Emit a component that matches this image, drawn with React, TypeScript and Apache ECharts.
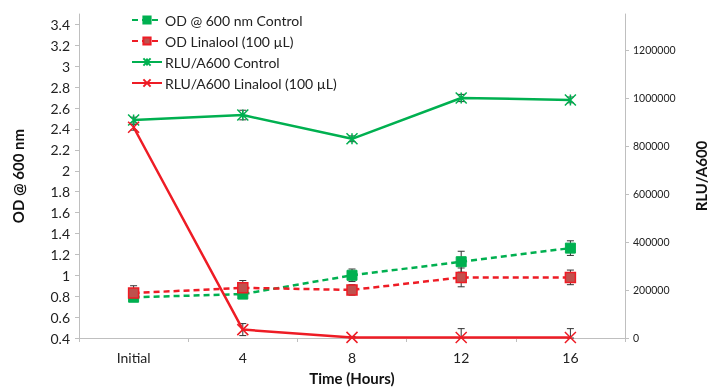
import React, { useEffect, useRef } from "react";
import * as echarts from "echarts";

const categories = ["Initial", "4", "8", "12", "16"];
const odControl = [0.79, 0.82, 1.0, 1.13, 1.26];
const odControlErr = [0.03, 0.03, 0.06, 0.1, 0.07];
const odLinalool = [0.83, 0.88, 0.86, 0.98, 0.98];
const odLinaloolErr = [0.07, 0.07, 0.05, 0.09, 0.07];
const rluControl = [908000, 929000, 830000, 1000000, 992000];
const rluControlErr = [12000, 20000, 12000, 15000, 12000];
const rluLinalool = [878000, 35000, 2500, 2000, 2000];
const rluLinaloolErr = [12000, 25000, 4000, 37000, 37000];

const GREEN = "#00B050";
const RED = "#EE1C25";
const RED_FILL = "#C0504D";
const FONT = "Lato";

const ASTERISK = "path://M0,0L10,10M10,0L0,10M5,0L5,10";
const CROSS = "path://M0,0L10,10M10,0L0,10";

function errData(vals: number[], errs: number[], floor: number) {
  return vals.map((v, i) => [i, Math.max(floor, v - errs[i]), v + errs[i]]);
}

function renderErr(params: any, api: any) {
  const x = api.value(0);
  const lo = api.coord([x, api.value(1)]);
  const hi = api.coord([x, api.value(2)]);
  const w = 3.5;
  const style = { stroke: "#333", lineWidth: 1 };
  return {
    type: "group",
    children: [
      { type: "line", shape: { x1: lo[0], y1: lo[1], x2: hi[0], y2: hi[1] }, style },
      { type: "line", shape: { x1: lo[0] - w, y1: lo[1], x2: lo[0] + w, y2: lo[1] }, style },
      { type: "line", shape: { x1: hi[0] - w, y1: hi[1], x2: hi[0] + w, y2: hi[1] }, style },
    ],
  };
}

export default function App() {
  const ref = useRef<HTMLDivElement>(null);
  useEffect(() => {
    if (!ref.current) return;
    const chart = echarts.init(ref.current, null, { renderer: "svg" });
    chart.setOption({
      animation: false,
      textStyle: { fontFamily: FONT },
      grid: { left: 79, right: 87, top: 14, bottom: 50, containLabel: false },
      legend: {
        orient: "vertical",
        left: 126,
        top: 8,
        itemWidth: 30,
        itemHeight: 9,
        itemGap: 7,
        data: [
          "OD @ 600 nm Control",
          "OD Linalool (100 µL)",
          "RLU/A600 Control",
          "RLU/A600 Linalool (100 µL)",
        ],
        textStyle: { fontFamily: FONT, fontSize: 14, color: "#222", padding: [0, 0, 0, -2] },
      },
      xAxis: {
        type: "category",
        data: categories,
        boundaryGap: true,
        name: "Time (Hours)",
        nameLocation: "middle",
        nameGap: 32,
        nameTextStyle: { fontFamily: FONT, fontSize: 15, fontWeight: "bold", color: "#111" },
        axisLine: { lineStyle: { color: "#BFBFBF", width: 1 } },
        axisTick: { show: true, alignWithLabel: false, length: 4, lineStyle: { color: "#BFBFBF" } },
        axisLabel: { fontFamily: FONT, fontSize: 14, color: "#222", margin: 12 },
      },
      yAxis: [
        {
          type: "value",
          min: 0.4,
          max: 3.5,
          interval: 0.2,
          name: "OD @ 600 nm",
          nameLocation: "middle",
          nameGap: 54,
          nameTextStyle: { fontFamily: FONT, fontSize: 15, fontWeight: "bold", color: "#111" },
          axisLine: { show: true, lineStyle: { color: "#BFBFBF", width: 1 } },
          axisTick: { show: true, length: 4, lineStyle: { color: "#BFBFBF" } },
          splitLine: { show: false },
          axisLabel: {
            fontFamily: FONT,
            fontSize: 14,
            color: "#222",
            margin: 9,
            showMaxLabel: false,
            formatter: (v: number) => String(Math.round(v * 10) / 10),
          },
        },
        {
          type: "value",
          min: 0,
          max: 1350000,
          interval: 200000,
          name: "RLU/A600",
          nameLocation: "middle",
          nameGap: 68,
          nameTextStyle: { fontFamily: FONT, fontSize: 15, fontWeight: "bold", color: "#111" },
          axisLine: { show: true, lineStyle: { color: "#BFBFBF", width: 1 } },
          axisTick: { show: true, length: 4, lineStyle: { color: "#BFBFBF" } },
          splitLine: { show: false },
          axisLabel: {
            fontFamily: FONT,
            fontSize: 10.5,
            color: "#222",
            margin: 8,
            showMaxLabel: false,
            formatter: (v: number) => String(Math.round(v)),
          },
        },
      ],
      series: [
        {
          type: "custom",
          name: "errOdC",
          yAxisIndex: 0,
          data: errData(odControl, odControlErr, 0.4),
          renderItem: renderErr,
          z: 1,
          silent: true,
        },
        {
          type: "custom",
          name: "errOdL",
          yAxisIndex: 0,
          data: errData(odLinalool, odLinaloolErr, 0.4),
          renderItem: renderErr,
          z: 1,
          silent: true,
        },
        {
          type: "custom",
          name: "errRluC",
          yAxisIndex: 1,
          data: errData(rluControl, rluControlErr, 0),
          renderItem: renderErr,
          z: 1,
          silent: true,
        },
        {
          type: "custom",
          name: "errRluL",
          yAxisIndex: 1,
          data: errData(rluLinalool, rluLinaloolErr, 0),
          renderItem: renderErr,
          z: 1,
          silent: true,
        },
        {
          type: "line",
          name: "OD @ 600 nm Control",
          yAxisIndex: 0,
          data: odControl,
          symbol: "rect",
          symbolSize: 10,
          lineStyle: { color: GREEN, width: 2.5, type: [6, 4] },
          itemStyle: { color: GREEN, borderColor: GREEN, borderWidth: 1 },
          z: 3,
        },
        {
          type: "line",
          name: "OD Linalool (100 µL)",
          yAxisIndex: 0,
          data: odLinalool,
          symbol: "rect",
          symbolSize: 10,
          lineStyle: { color: RED, width: 2.5, type: [6, 4] },
          itemStyle: { color: RED_FILL, borderColor: RED, borderWidth: 1.5 },
          z: 3,
        },
        {
          type: "line",
          name: "RLU/A600 Control",
          yAxisIndex: 1,
          data: rluControl,
          symbol: ASTERISK,
          symbolSize: 11,
          lineStyle: { color: GREEN, width: 2.5 },
          itemStyle: { color: GREEN, borderColor: GREEN, borderWidth: 1.5 },
          z: 3,
        },
        {
          type: "line",
          name: "RLU/A600 Linalool (100 µL)",
          yAxisIndex: 1,
          data: rluLinalool,
          symbol: CROSS,
          symbolSize: 11,
          lineStyle: { color: RED, width: 2.5 },
          itemStyle: { color: RED, borderColor: RED, borderWidth: 1.5 },
          z: 3,
        },
      ],
    });
    return () => chart.dispose();
  }, []);
  return <div ref={ref} style={{ width: 716, height: 390, position: "fixed", left: 0, top: 0 }} />;
}
